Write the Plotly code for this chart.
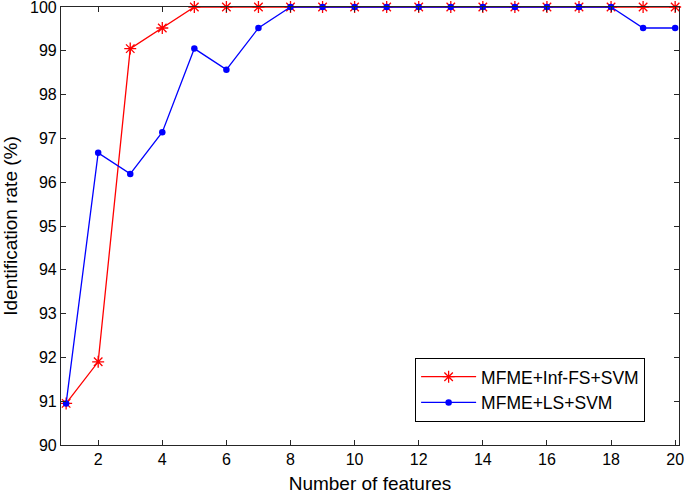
import plotly.graph_objects as go

# number of selected features
n_features = list(range(1, 21))

# identification rate (%) per method
inf_fs_svm = [90.95, 91.90, 99.05, 99.52, 100, 100, 100, 100, 100, 100,
              100, 100, 100, 100, 100, 100, 100, 100, 100, 100]
ls_svm = [90.95, 96.67, 96.19, 97.14, 99.05, 98.57, 99.52, 100, 100, 100,
          100, 100, 100, 100, 100, 100, 100, 100, 99.52, 99.52]

x_ticks = list(range(2, 21, 2))
y_ticks = list(range(90, 101))

fig = go.Figure()
fig.add_trace(go.Scatter(
    x=n_features, y=inf_fs_svm, name="MFME+Inf-FS+SVM",
    mode="lines+markers",
    line=dict(color="#ff0000", width=1.3),
    marker=dict(symbol="asterisk-open", size=10, color="#ff0000",
                line=dict(color="#ff0000", width=1.3)),
    cliponaxis=False,
))
fig.add_trace(go.Scatter(
    x=n_features, y=ls_svm, name="MFME+LS+SVM",
    mode="lines+markers",
    line=dict(color="#0000ff", width=1.3),
    marker=dict(symbol="circle", size=6.5, color="#0000ff"),
    cliponaxis=False,
))

axis_style = dict(
    showline=True, linecolor="#262626", linewidth=1.2, mirror="ticks",
    ticks="inside", ticklen=5, tickcolor="#262626", tickwidth=1.2,
    showgrid=False, zeroline=False, automargin=False,
    ticklabeloverflow="allow",
    tickfont=dict(family="Liberation Sans, Arial", size=16, color="#000000"),
)

fig.update_layout(
    width=685, height=494,
    margin=dict(l=61, r=6, t=7, b=49),
    paper_bgcolor="white", plot_bgcolor="white",
    font=dict(family="Liberation Sans, Arial", size=16, color="#000000"),
    xaxis=dict(range=[0.84, 20.12], tickvals=x_ticks,
               title=dict(text="Number of features", standoff=9), **axis_style),
    yaxis=dict(range=[90, 100], tickvals=y_ticks,
               title=dict(text="Identification rate (%)", standoff=19), **axis_style),
    legend=dict(x=0.573, y=0.199, xanchor="left", yanchor="top",
                bgcolor="white", bordercolor="#000000", borderwidth=1,
                font=dict(size=17.5), itemwidth=55, tracegroupgap=0),
    showlegend=True,
)

# drop the default page margin so the figure sits at the window's corner
fig.write_html("out.html", config={"displayModeBar": False},
               post_script="document.body.style.margin='0';")
